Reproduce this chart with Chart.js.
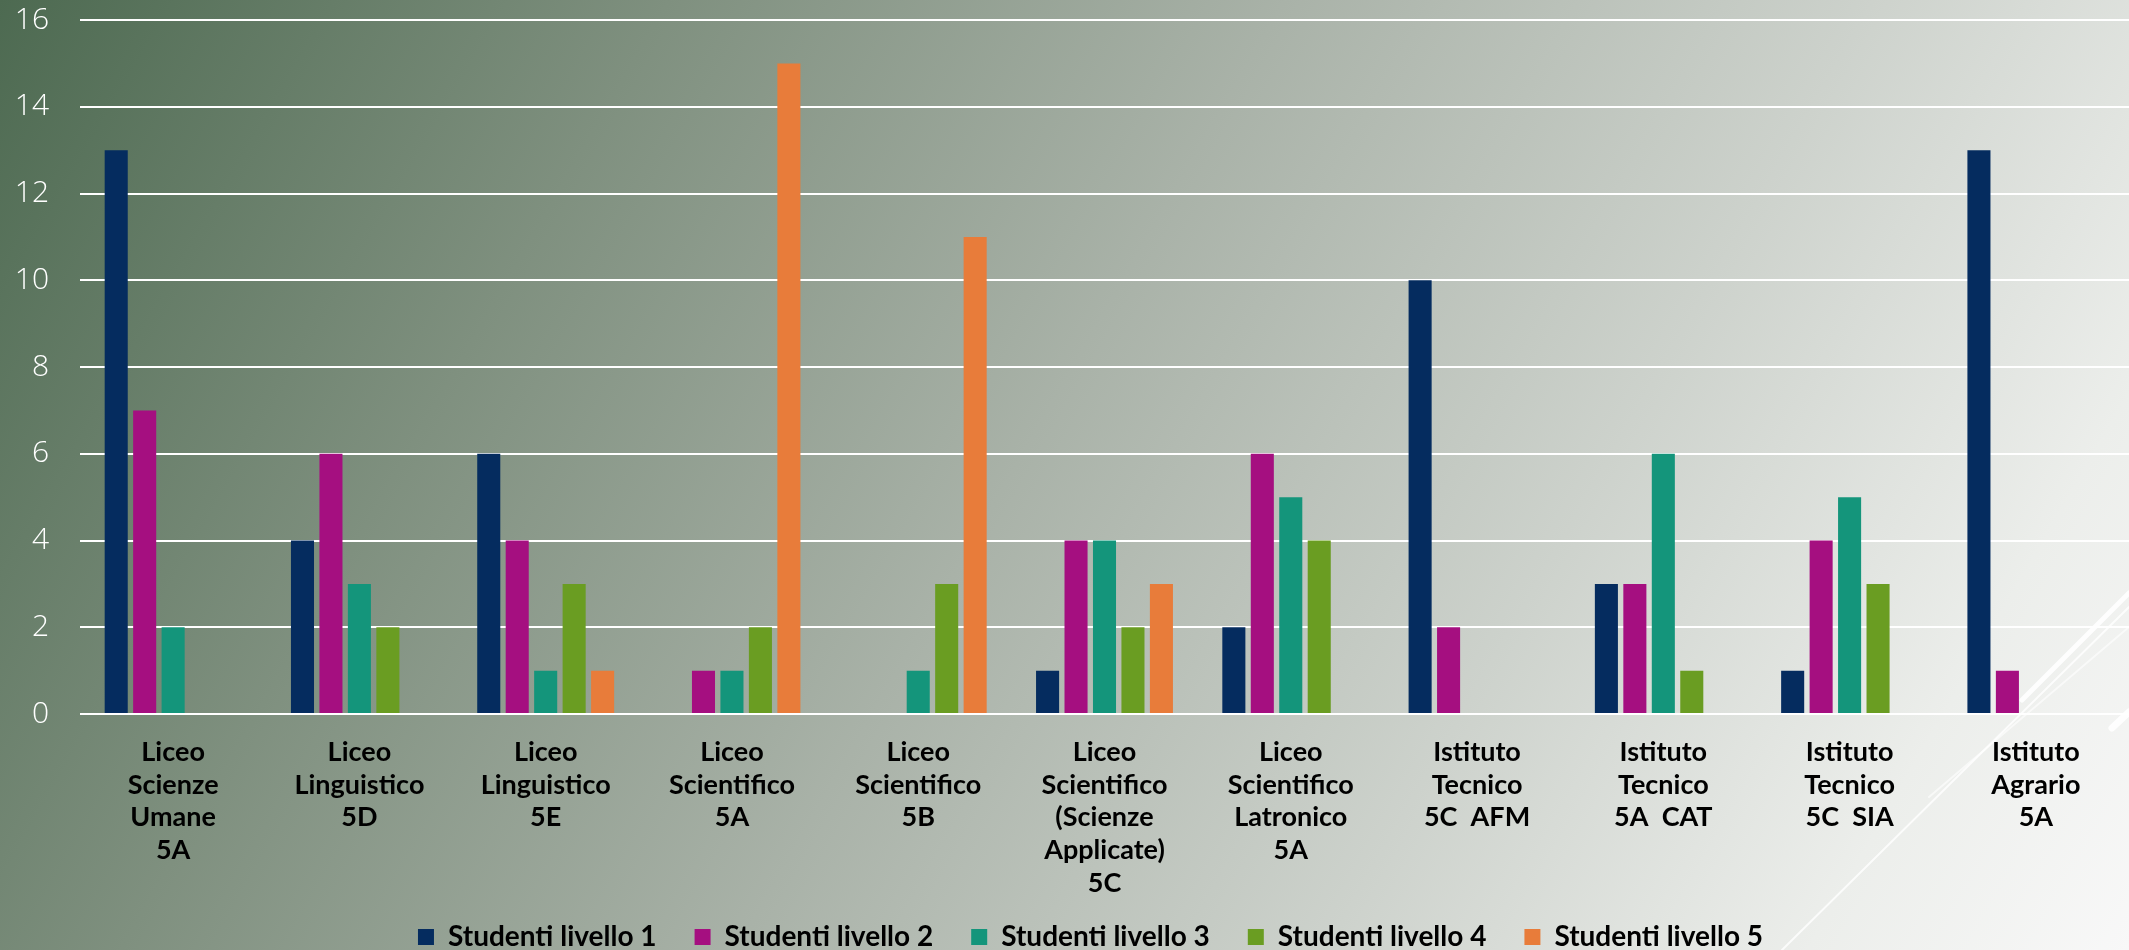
<!DOCTYPE html>
<html lang="it">
<head>
<meta charset="utf-8">
<title>Studenti per livello</title>
<script src="https://cdn.jsdelivr.net/npm/chart.js@4/dist/chart.umd.min.js"></script>
<style>
  html, body { margin: 0; padding: 0; }
  body {
    width: 2129px; height: 950px; overflow: hidden; position: relative;
    background: linear-gradient(120deg, #4d6a51 0%, #7f907f 25%, #a9b2a8 48%, #cdd2cc 70%, #eceeeb 88%, #f8f8f8 100%);
  }
  #deco { position: absolute; left: 0; top: 0; }
  #wrap { position: absolute; left: 0; top: 0; width: 2129px; height: 950px; }
</style>
</head>
<body>
<svg id="deco" width="2129" height="950">
  <g stroke="#ffffff" stroke-linecap="round" fill="none">
    <line x1="1782" y1="950" x2="2129" y2="607" stroke-width="2" opacity="0.8"/>
    <line x1="1929" y1="797" x2="2129" y2="627" stroke-width="2" opacity="0.6"/>
    <line x1="2022" y1="700" x2="2129" y2="593" stroke-width="5" opacity="0.9"/>
    <line x1="2112" y1="728" x2="2129" y2="712" stroke-width="7" opacity="0.9"/>
  </g>
</svg>
<div id="wrap"><canvas id="chart" width="2129" height="950"></canvas></div>
<script>
  /* ---- data ------------------------------------------------------- */
  var CLASSES = [
    ["Liceo", "Scienze", "Umane", "5A"],
    ["Liceo", "Linguistico", "5D"],
    ["Liceo", "Linguistico", "5E"],
    ["Liceo", "Scientifico", "5A"],
    ["Liceo", "Scientifico", "5B"],
    ["Liceo", "Scientifico", "(Scienze", "Applicate)", "5C"],
    ["Liceo", "Scientifico", "Latronico", "5A"],
    ["Istituto", "Tecnico", "5C  AFM"],
    ["Istituto", "Tecnico", "5A  CAT"],
    ["Istituto", "Tecnico", "5C  SIA"],
    ["Istituto", "Agrario", "5A"]
  ];

  var LIVELLO_1 = [13, 4, 6, 0, 0, 1, 2, 10, 3, 1, 13];
  var LIVELLO_2 = [7, 6, 4, 1, 0, 4, 6, 2, 3, 4, 1];
  var LIVELLO_3 = [2, 3, 1, 1, 1, 4, 5, 0, 6, 5, 0];
  var LIVELLO_4 = [0, 2, 3, 2, 3, 2, 4, 0, 1, 3, 0];
  var LIVELLO_5 = [0, 0, 1, 15, 11, 3, 0, 0, 0, 0, 0];

  var SERIES_NAMES = [
    "Studenti livello 1", "Studenti livello 2", "Studenti livello 3",
    "Studenti livello 4", "Studenti livello 5"
  ];
  var COLORS = ["#052c5f", "#a50f80", "#14957b", "#6a9d22", "#e87c3a"];

  var Y_MAX = 16;
  var Y_STEP = 2;

  /* ---- chart ------------------------------------------------------ */
  var values = [LIVELLO_1, LIVELLO_2, LIVELLO_3, LIVELLO_4, LIVELLO_5];
  var datasets = values.map(function (v, i) {
    return {
      label: SERIES_NAMES[i],
      data: v,
      backgroundColor: COLORS[i],
      borderWidth: 0,
      categoryPercentage: 0.764,
      barPercentage: 0.81
    };
  });

  var LABEL_FONT = "'Century Gothic', Lato, 'DejaVu Sans', sans-serif";

  /* x labels run past the axis box (5 lines): widen the clip after layout;
     the legend sits a bit right of and below where chart.js puts it */
  var tweakLayout = {
    id: "tweakLayout",
    afterLayout: function (chart) {
      var lg = chart.legend;
      chart.scales.x.bottom = chart.height;
      lg.left += 26;
      lg.right += 26;
      lg.top += 4;
      lg.bottom += 4;
    }
  };

  new Chart(document.getElementById("chart"), {
    type: "bar",
    data: { labels: CLASSES, datasets: datasets },
    plugins: [tweakLayout],
    options: {
      responsive: false,
      animation: false,
      layout: { padding: { top: 0, right: 0, left: 0, bottom: -7 } },
      plugins: {
        title: { display: false },
        tooltip: { enabled: false },
        legend: {
          position: "bottom",
          labels: {
            color: "#000000",
            boxWidth: 16,
            boxHeight: 16,
            padding: 38,
            font: { family: LABEL_FONT, size: 28, weight: "bold", lineHeight: 1 }
          }
        }
      },
      scales: {
        x: {
          grid: { display: false },
          border: { display: false },
          ticks: {
            color: "#000000",
            padding: 14,
            maxRotation: 0,
            autoSkip: false,
            font: { family: LABEL_FONT, size: 27, weight: "bold", lineHeight: 1.21 }
          },
          afterFit: function (s) { s.height = 167; }
        },
        y: {
          min: 0,
          max: Y_MAX,
          border: { display: false },
          grid: { color: "#ffffff", lineWidth: 2, drawTicks: false },
          ticks: {
            stepSize: Y_STEP,
            color: "#ffffff",
            padding: 31,
            font: { family: "'Open Sans', Lato, sans-serif", size: 30, weight: "300" }
          },
          afterFit: function (s) { s.width = 80; s.paddingTop = 20; }
        }
      }
    }
  });
</script>
</body>
</html>
